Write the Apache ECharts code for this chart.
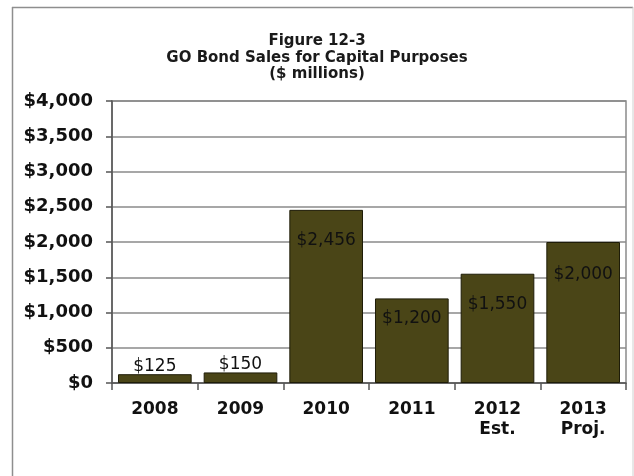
<!DOCTYPE html>
<html>
<head>
<meta charset="utf-8">
<script src="https://cdn.jsdelivr.net/npm/echarts@6/dist/echarts.min.js"></script>
<style>
  html, body { margin: 0; padding: 0; background: #fff; }
  #chart { width: 634px; height: 476px; }
</style>
</head>
<body>
<div id="chart"></div>
<script>
// Fiscal years shown on the category axis (second line marks estimate / projection)
const years = ['2008', '2009', '2010', '2011', '2012\nEst.', '2013\nProj.'];
// GO bond sales for capital purposes, $ millions
const sales = [125, 150, 2456, 1200, 1550, 2000];
// Value-axis ticks
const yTicks = [0, 500, 1000, 1500, 2000, 2500, 3000, 3500, 4000];

const FONT = '"DejaVu Sans", "Liberation Sans", Arial, sans-serif';
const money = v => '$' + Number(v).toLocaleString('en-US');

const chart = echarts.init(document.getElementById('chart'), null, { renderer: 'canvas' });

// Small bars carry their label just above; tall bars carry it inside, a little below the top
// (hand-placed drop for each inside label)
const insideDrop = [0, 0, 22, 12, 22, 24];
const barData = sales.map((v, i) => ({
  value: v,
  label: v < 500
    ? { position: 'top', distance: -1 }
    : { position: 'insideTop', distance: insideDrop[i] }
}));

chart.setOption({
  animation: false,
  backgroundColor: '#ffffff',
  title: {
    text: 'Figure 12-3\nGO Bond Sales for Capital Purposes\n($ millions)',
    left: 'center',
    top: 28,
    textStyle: {
      fontFamily: FONT,
      fontSize: 15,
      fontWeight: 'bold',
      color: '#1a1a1a',
      lineHeight: 16.5
    }
  },
  graphic: [
    // outer chart frame
    { type: 'line', shape: { x1: 12, y1: 7.5, x2: 633, y2: 7.5 }, style: { stroke: '#8e8e8e', lineWidth: 1.5 } },
    { type: 'line', shape: { x1: 12.5, y1: 7, x2: 12.5, y2: 476 }, style: { stroke: '#8e8e8e', lineWidth: 1.5 } },
    { type: 'line', shape: { x1: 633, y1: 7, x2: 633, y2: 476 }, style: { stroke: '#d0d0d0', lineWidth: 1 } }
  ],
  grid: {
    left: 112,
    top: 101,
    right: 8,
    bottom: 93,
    show: true,
    borderColor: '#8a8a8a',
    borderWidth: 1.5,
    backgroundColor: 'transparent'
  },
  xAxis: {
    type: 'category',
    data: years,
    axisLine: { show: true, lineStyle: { color: '#555', width: 1.5 } },
    axisTick: { show: true, length: 7, alignWithLabel: false, lineStyle: { color: '#555', width: 1.5 } },
    axisLabel: {
      fontFamily: FONT,
      fontSize: 17,
      fontWeight: 'bold',
      color: '#111',
      lineHeight: 20,
      margin: 17
    }
  },
  yAxis: {
    type: 'value',
    min: yTicks[0],
    max: yTicks[yTicks.length - 1],
    interval: yTicks[1] - yTicks[0],
    axisLine: { show: true, lineStyle: { color: '#555', width: 1.5 } },
    axisTick: { show: true, length: 6, lineStyle: { color: '#555', width: 1.5 } },
    splitLine: { show: true, lineStyle: { color: '#8a8a8a', width: 1.5 } },
    axisLabel: {
      formatter: money,
      fontFamily: FONT,
      fontSize: 18,
      fontWeight: 'bold',
      color: '#111',
      margin: 19
    }
  },
  series: [{
    type: 'bar',
    data: barData,
    barCategoryGap: '14%',
    itemStyle: {
      color: '#4a4517',
      borderColor: '#1e1c08',
      borderWidth: 1
    },
    label: {
      show: true,
      formatter: p => money(p.value),
      fontFamily: FONT,
      fontSize: 17,
      color: '#111'
    }
  }]
});
</script>
</body>
</html>
